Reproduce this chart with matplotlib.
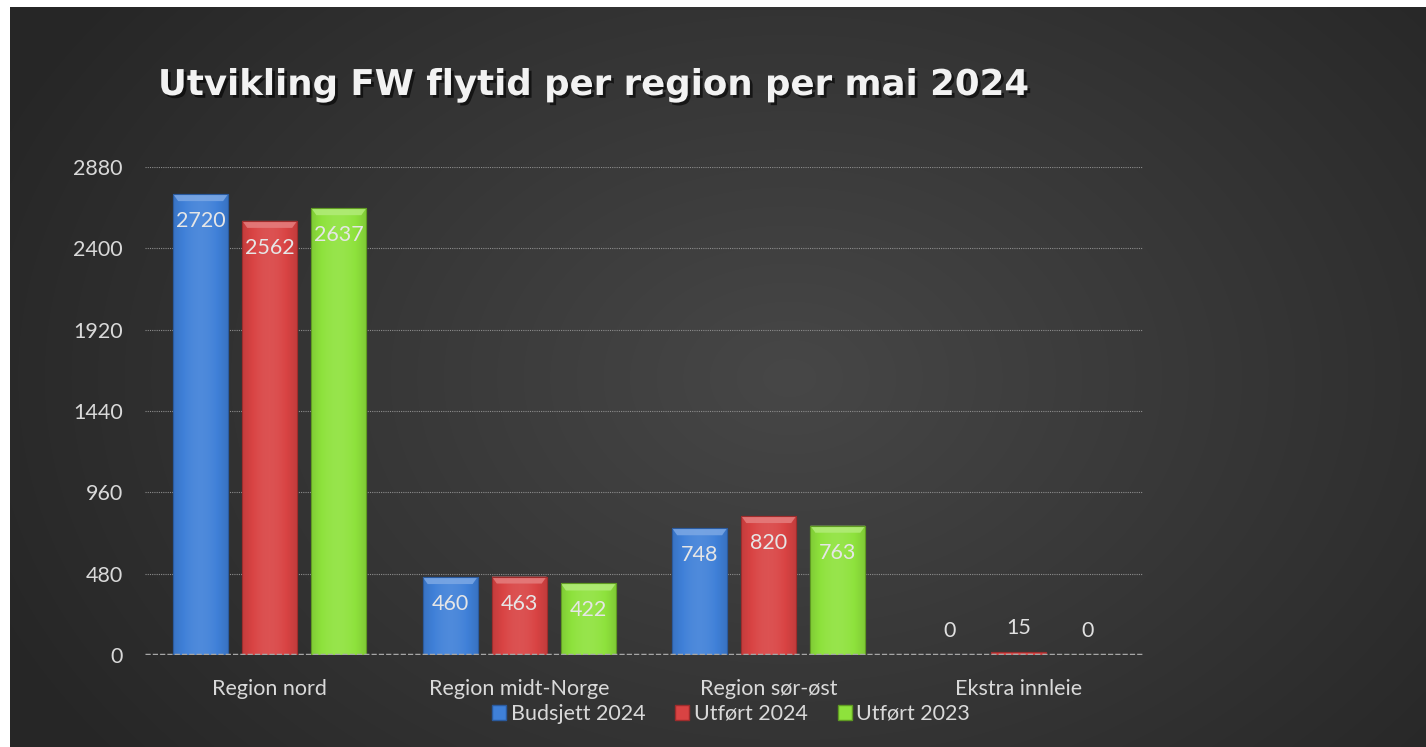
import numpy as np
import matplotlib
matplotlib.use("Agg")
import matplotlib.pyplot as plt
from matplotlib.patches import Patch, Polygon
import matplotlib.patheffects as pe
from matplotlib.colors import to_rgb

# ---------------- data ----------------
categories = ["Region nord", "Region midt-Norge", "Region sør-øst", "Ekstra innleie"]
series_names = ["Budsjett 2024", "Utført 2024", "Utført 2023"]
budsjett_2024 = [2720, 460, 748, 0]
utfort_2024 = [2562, 463, 820, 15]
utfort_2023 = [2637, 422, 763, 0]
yticks = [0, 480, 960, 1440, 1920, 2400, 2880]
title = "Utvikling FW flytid per region per mai 2024"

series = [budsjett_2024, utfort_2024, utfort_2023]
colors = ["#3f80d8", "#d94343", "#8ee23c"]
edge_colors = ["#2a5a9e", "#9e2c2c", "#5f9a22"]

plt.rcParams['font.family'] = ['Lato', 'DejaVu Sans']
FS = 15.5
W, H = 1426, 747
fig = plt.figure(figsize=(W / 100, H / 100), dpi=100, facecolor="white")

# ---------------- background (radial gradient) ----------------
bg = fig.add_axes([10 / W, 0, (W - 10) / W, (H - 7) / H], zorder=-10)
ny, nx = 370, 708
yy, xx = np.mgrid[0:ny, 0:nx]
cx, cy = nx * 0.55, ny * 0.50
r = np.sqrt(((xx - cx) / (nx * 0.62)) ** 2 + ((yy - cy) / (ny * 0.85)) ** 2)
r = np.clip(r, 0, 1)
c_in = np.array(to_rgb("#474747"))
c_out = np.array(to_rgb("#262626"))
img = c_in[None, None, :] * (1 - r[..., None]) + c_out[None, None, :] * r[..., None]
bg.imshow(img, aspect="auto", extent=(0, 1, 0, 1), interpolation="bilinear")
bg.set_axis_off()

# ---------------- main axes ----------------
ax = fig.add_axes([145 / W, 1 - 655 / H, (1143 - 145) / W, (655 - 167) / H])
ax.set_facecolor("none")
x = np.arange(len(categories))
bw = 0.22
offs = [-0.277, 0.0, 0.277]

px_per_unit = (655 - 167) / 2880.0
bevel = 7 / px_per_unit

def shade(c, f):
    c = np.array(to_rgb(c))
    if f >= 0:
        return tuple(c + (1 - c) * f)
    return tuple(c * (1 + f))

for si, vals in enumerate(series):
    bars = ax.bar(x + offs[si], vals, bw, color=colors[si], edgecolor=edge_colors[si],
                  linewidth=0.8, zorder=3)
    for b, v in zip(bars, vals):
        if v <= 0:
            continue
        x0, w, h = b.get_x(), b.get_width(), b.get_height()
        t = np.linspace(0, 1, 64)
        prof = 0.18 * np.sin(np.pi * t) - 0.10
        grad = np.array([shade(colors[si], p) for p in prof])[None, :, :]
        im = ax.imshow(grad, extent=(x0, x0 + w, 0, h), aspect="auto", zorder=3.5,
                       interpolation="bilinear")
        im.set_clip_path(b)
        if h > 3 * bevel:
            bv = Polygon([[x0, h], [x0 + w, h], [x0 + w - 0.02, h - bevel], [x0 + 0.02, h - bevel]],
                         closed=True, facecolor=shade(colors[si], 0.3), edgecolor="none",
                         zorder=3.7, alpha=0.9)
            ax.add_patch(bv)
        ax.add_patch(Polygon([[x0, 0], [x0 + w, 0], [x0 + w, h], [x0, h]], closed=True,
                             facecolor="none", edgecolor=edge_colors[si], lw=0.8, zorder=3.8))
    for b, v in zip(bars, vals):
        cxp = b.get_x() + b.get_width() / 2
        if v >= 200:
            ax.annotate(f"{v}", (cxp, v), xytext=(0, -27), textcoords="offset pixels",
                        ha="center", va="center", color="#e6e6e6", fontsize=FS, zorder=5)
        else:
            ax.annotate(f"{v}", (cxp, v), xytext=(0, 24), textcoords="offset pixels",
                        ha="center", va="center", color="#e0e0e0", fontsize=FS, zorder=5)

ax.set_xlim(-0.5, len(categories) - 0.5)
ax.set_ylim(0, 2880)
ax.set_yticks(yticks)
ax.set_yticklabels([str(t) for t in yticks])
ax.set_xticks(x)
ax.set_xticklabels(categories)
ax.tick_params(axis="both", length=0, colors="#d9d9d9", labelsize=FS)
ax.tick_params(axis="y", pad=16)
ax.tick_params(axis="x", pad=17)
for s in ax.spines.values():
    s.set_visible(False)
ax.yaxis.grid(True, color="#8c8c8c", linestyle=(0, (1, 1)), linewidth=0.8, zorder=0)
ax.set_axisbelow(True)
ax.axhline(0, color="#a6a6a6", linewidth=2.5, linestyle=(0, (1.5, 0.6)), zorder=4)

# ---------------- title ----------------
fig.text(158 / W, 1 - 85 / H, title, ha="left", va="center", fontsize=25.6, fontweight="bold",
         color="#f2f2f2", family=["DejaVu Sans"],
         path_effects=[pe.SimplePatchShadow(offset=(2, -2), shadow_rgbFace="black", alpha=0.6),
                       pe.Normal()])

# ---------------- legend ----------------
handles = [Patch(facecolor=colors[i], edgecolor=edge_colors[i], label=series_names[i])
           for i in range(3)]
leg = fig.legend(handles=handles, loc="center", bbox_to_anchor=(731 / W, 1 - 714 / H), ncol=3,
                 frameon=False, fontsize=FS, handlelength=0.65, handleheight=0.65,
                 handletextpad=0.2, columnspacing=1.4)
for t in leg.get_texts():
    t.set_color("#d9d9d9")

fig.savefig("out.png", dpi=100, facecolor=fig.get_facecolor())
